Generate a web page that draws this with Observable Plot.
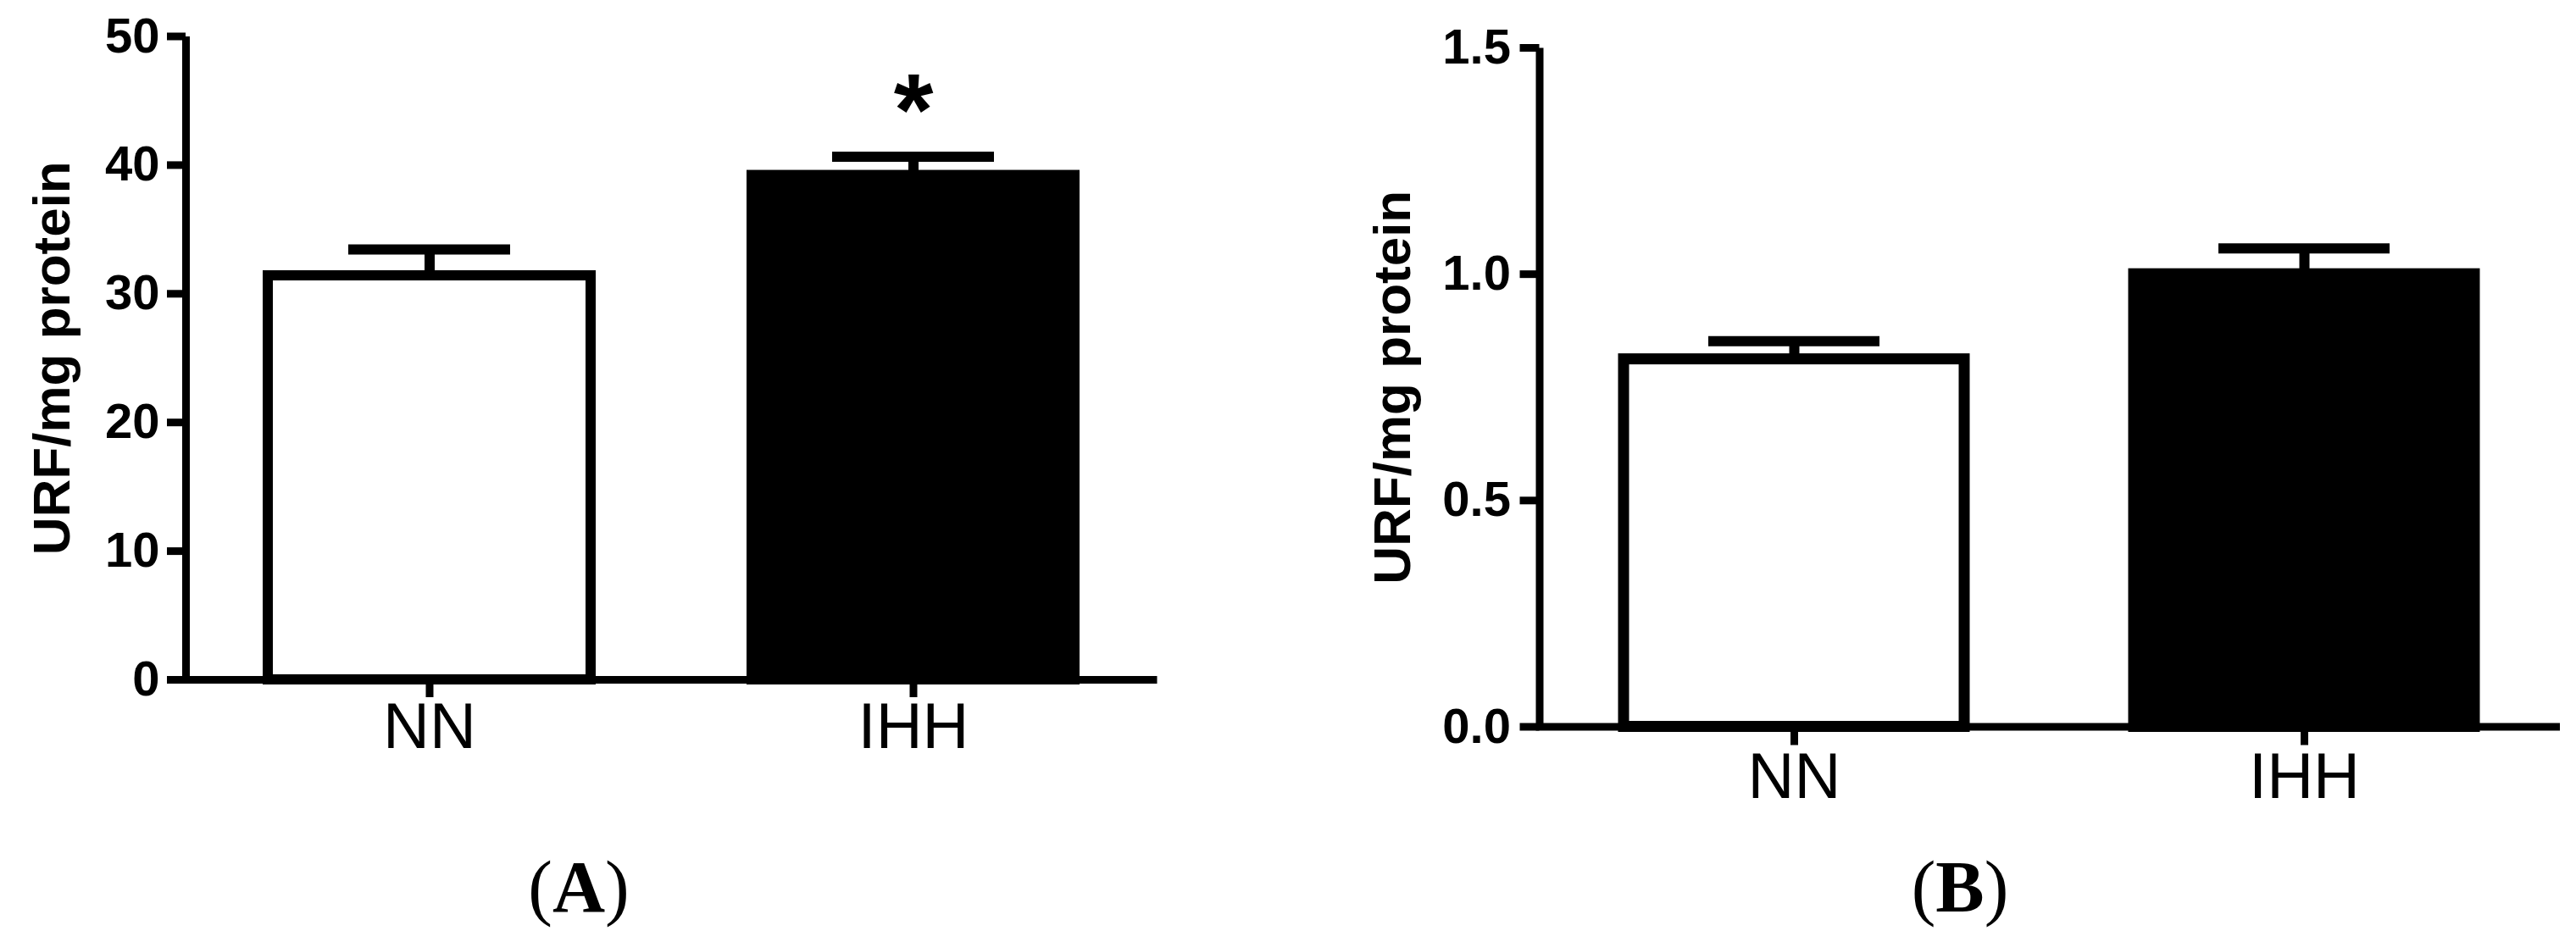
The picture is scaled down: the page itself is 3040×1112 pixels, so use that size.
<!DOCTYPE html>
<html><head><meta charset="utf-8">
<script src="https://cdn.jsdelivr.net/npm/d3@7"></script>
<script src="https://cdn.jsdelivr.net/npm/@observablehq/plot@0.6"></script>
<style>
html,body{margin:0;padding:0;background:#fff;}
#wrap{position:relative;width:3040px;height:1112px;overflow:hidden;background:#fff;}
.panel{position:absolute;top:0;}
.tag{position:absolute;top:1004px;font-family:"Liberation Serif","Times New Roman",serif;font-size:86px;line-height:1;color:#000;transform:translateX(-50%);white-space:nowrap;}
.tag b{font-weight:bold;}
</style></head><body>
<div id="wrap"></div>
<script>
// ---- data ----
const groups = ["NN", "IHH"];
const fills = ["white", "black"];
const meansA = [31.4, 39.2];
const semsA = [2.05, 1.45];
const sigA = ["", "*"];
const meansB = [0.812, 1.0];
const semsB = [0.04, 0.057];
const sigB = ["", ""];
const yTicksA = [0, 10, 20, 30, 40, 50];
const yTicksB = [0, 0.5, 1.0, 1.5];
const yLabel = "URF/mg protein";
const panelTags = ["A", "B"];

const SANS = "'Liberation Sans', Arial, Helvetica, sans-serif";
const NARROW = "'Liberation Sans Narrow', 'Arial Narrow', 'Liberation Sans', Arial, sans-serif";

function panel(o) {
  const data = groups.map((g, i) => ({group: g, mean: o.means[i], sem: o.sems[i], fill: fills[i], sig: o.sig[i]}));
  const fw = o.width - o.ml - o.mr, fh = o.height - o.mt - o.mb;
  return Plot.plot({
    width: o.width, height: o.height,
    marginLeft: o.ml, marginRight: o.mr, marginTop: o.mt, marginBottom: o.mb,
    style: {background: "transparent", color: "black", overflow: "visible", fontFamily: SANS},
    x: {type: "band", domain: groups, paddingInner: o.pi, paddingOuter: o.po, align: 0.5},
    y: {domain: o.domain},
    marks: [
      Plot.frame({stroke: "black", strokeWidth: 9, strokeDasharray: `0 ${fw + fh} ${fw + fh}`}),
      Plot.barY(data, {x: "group", y: "mean", fill: "fill", stroke: "black", strokeWidth: o.bsw}),
      Plot.ruleX(data, {x: "group", y1: "mean", y2: d => d.mean + d.sem, stroke: "black", strokeWidth: 12}),
      Plot.tickY(data, {x: "group", y: d => d.mean + d.sem, stroke: "black", strokeWidth: 12, insetLeft: o.capInset, insetRight: o.capInset}),
      Plot.axisY({ticks: o.ticks, tickFormat: o.fmt, tickSize: o.yts, tickPadding: o.ytp, strokeWidth: 9,
        fontSize: 58, fontWeight: "bold", fontFamily: SANS, label: null}),
      Plot.axisX({tickSize: o.xts, tickPadding: o.xtp, strokeWidth: 9, fontSize: 76, fontFamily: NARROW, label: null}),
      Plot.text([yLabel], {frameAnchor: "left", rotate: -90, dx: o.labelDx, lineAnchor: "middle", textAnchor: "middle",
        fontSize: 62, fontWeight: "bold", fontFamily: SANS, fill: "black"}),
      Plot.text(data, {x: "group", y: d => d.mean + d.sem, text: "sig", dy: -52, lineAnchor: "middle",
        fontSize: 120, fontWeight: "bold", fontFamily: SANS, fill: "black"})
    ]
  });
}

const wrap = document.getElementById("wrap");

const pA = panel({
  width: 1400, height: 1000, ml: 219, mr: 35, mt: 42.5, mb: 198,
  domain: [0, 50], ticks: yTicksA, fmt: d3.format("d"),
  means: meansA, sems: semsA, sig: sigA,
  pi: 0.333, po: 0.17, bsw: 12, capInset: 95,
  yts: 22, ytp: 9, xts: 21, xtp: 6, labelDx: -157
});
pA.classList.add("panel"); pA.style.left = "0px";
wrap.appendChild(pA);

const pB = panel({
  width: 1490, height: 1000, ml: 266.5, mr: 19.5, mt: 56, mb: 142.5,
  domain: [0, 1.5], ticks: yTicksB, fmt: d3.format(".1f"),
  means: meansB, sems: semsB, sig: sigB,
  pi: 0.332, po: 0.166, bsw: 13, capInset: 100,
  yts: 23, ytp: 11, xts: 22, xtp: 8, labelDx: -173
});
pB.classList.add("panel"); pB.style.left = "1550px";
wrap.appendChild(pB);

const tagX = [683, 2313];
panelTags.forEach((t, i) => {
  const d = document.createElement("div");
  d.className = "tag";
  d.style.left = tagX[i] + "px";
  d.innerHTML = "(<b>" + t + "</b>)";
  wrap.appendChild(d);
});
</script>
</body></html>
